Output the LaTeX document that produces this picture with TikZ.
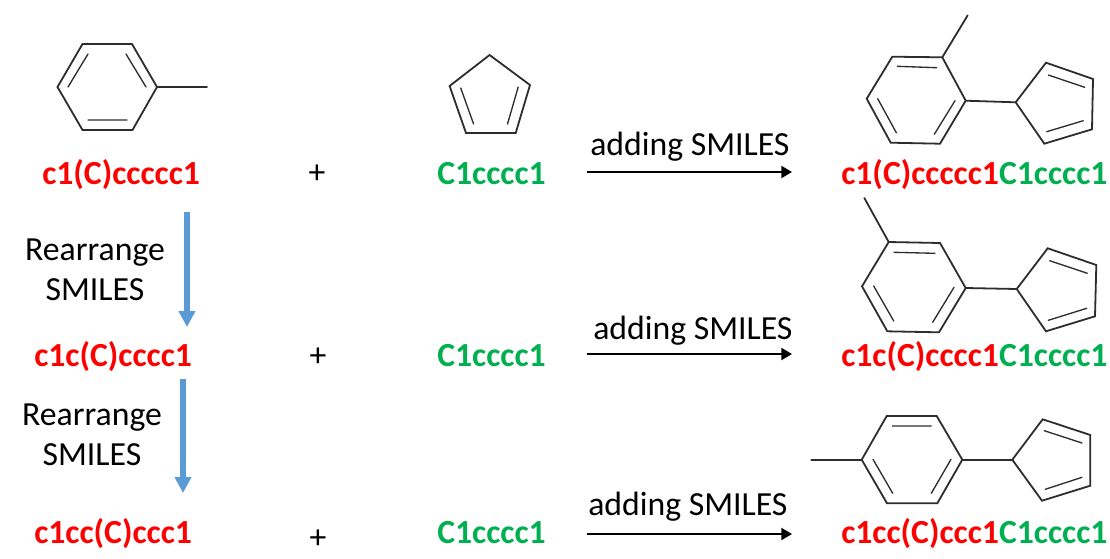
\documentclass[tikz,border=0pt]{standalone}
\usepackage{fontspec}
\setmainfont{Carlito}
\usetikzlibrary{arrows.meta}
\definecolor{smred}{RGB}{255,0,0}
\definecolor{smgreen}{RGB}{0,176,80}
\definecolor{smblue}{RGB}{91,155,213}
\definecolor{bondc}{RGB}{45,45,45}
\tikzset{
  bond/.style={draw=bondc,line width=1.35pt,line join=miter,line cap=round},
  inner bond/.style={draw=bondc,line width=1pt,line cap=round},
  smiles/.style={anchor=base west,inner sep=0pt,font=\fontsize{25.3}{30}\selectfont\bfseries},
  plain label/.style={anchor=base west,inner sep=0pt,font=\fontsize{25.3}{30}\selectfont},
  plus label/.style={inner sep=0pt,font=\fontsize{25.3}{30}\selectfont},
  react arrow/.style={draw=black,line width=1.5pt,-{Triangle[length=8pt,width=9pt]}},
  move arrow/.style={draw=smblue,line width=4pt,-{Triangle[length=12pt,width=12pt]}}
}
\begin{document}
\begin{tikzpicture}[x=0.75pt,y=-0.75pt]
\useasboundingbox (0,0) rectangle (1110,558);
% toluene
\draw[bond] (82.5,44) -- (132,44) -- (157,87) -- (132.5,130) -- (82.5,130) -- (57.5,87) -- cycle;
\draw[bond] (157,87) -- (207,87);
\draw[inner bond] (88,54) -- (68,87) (126,54) -- (146,87) (88,120) -- (127,120);
% cyclopentadiene
\draw[bond] (489.6,55) -- (530,85) -- (515.7,133) -- (466,133) -- (449.6,86) -- cycle;
\draw[inner bond] (460.7,88) -- (473.6,124) (518.2,87) -- (507.5,124);
% product 1
\draw[bond] (892.3,56.7) -- (942.3,57.3) -- (965.7,100.7) -- (940,143.7) -- (890.7,142.7) -- (866.7,98.7) -- cycle;
\draw[bond] (942.3,57.3) -- (967.7,15.3);
\draw[inner bond] (897.3,66.3) -- (936.7,67.7) (877.7,98.7) -- (896.3,132.7) (955,100.7) -- (934.3,134.3);
\draw[bond] (965.7,100.7) -- (1015.7,102.3);
\draw[bond] (1015.7,102.3) -- (1046,62.7) -- (1093,79) -- (1092,129.3) -- (1044.3,143.7) -- cycle;
\draw[inner bond] (1048.3,75) -- (1084.7,87.3) (1046.7,131.7) -- (1083.3,120.7);
% product 2
\draw[bond] (888.7,242) -- (940,243) -- (965.7,288) -- (939,332.3) -- (887.3,331.3) -- (862,286.3) -- cycle;
\draw[bond] (888.7,242) -- (864.3,198);
\draw[inner bond] (894,252.3) -- (935,253.3) (873.7,286) -- (893.7,321) (954,287.3) -- (932.7,322.3);
\draw[bond] (965.7,288) -- (1016.7,289);
\draw[bond] (1016.7,289) -- (1047.7,248.3) -- (1096.3,265) -- (1095,316.3) -- (1046,331.3) -- cycle;
\draw[inner bond] (1049.7,260.7) -- (1087.3,273.3) (1048.3,320.3) -- (1086.7,308.3);
% product 3
\draw[bond] (886.7,416) -- (936.7,416) -- (962.3,459.7) -- (937.3,503.3) -- (887,503.3) -- (861.7,459.7) -- cycle;
\draw[bond] (861.7,459.7) -- (811.3,459.7);
\draw[inner bond] (892.3,426) -- (931.3,426) (873,459.3) -- (892.7,493.3) (951,459.3) -- (931.3,493.3);
\draw[bond] (962.3,459.7) -- (1012.3,459.7);
\draw[bond] (1012.3,459.7) -- (1042.7,419.3) -- (1090.3,435) -- (1090.3,485.7) -- (1042,500.7) -- cycle;
\draw[inner bond] (1044.3,430.7) -- (1082,443) (1045.3,489.3) -- (1082,477.3);
% labels
\node[smiles,text=smred] (a1) at (42,184) {c1(C)ccccc1};
\node[smiles,text=smred] (a2) at (34,366) {c1c(C)cccc1};
\node[smiles,text=smred] (a3) at (34,543) {c1cc(C)ccc1};
\node[plus label] (p1) at (317,174) {+};
\node[plus label] (p2) at (318,357) {+};
\node[plus label] (p3) at (318,539) {+};
\node[smiles,text=smgreen] (b1) at (437,184) {C1cccc1};
\node[smiles,text=smgreen] (b2) at (437,366) {C1cccc1};
\node[smiles,text=smgreen] (b3) at (437,543) {C1cccc1};
\node[smiles] (c1) at (841,184) {\textcolor{smred}{c1(C)ccccc1}\textcolor{smgreen}{C1cccc1}};
\node[smiles] (c2) at (841,366) {\textcolor{smred}{c1c(C)cccc1}\textcolor{smgreen}{C1cccc1}};
\node[smiles] (c3) at (841,543) {\textcolor{smred}{c1cc(C)ccc1}\textcolor{smgreen}{C1cccc1}};
\node[plain label] (l1) at (590,155) {adding SMILES};
\node[plain label] (l2) at (593,339) {adding SMILES};
\node[plain label] (l3) at (588,515) {adding SMILES};
\node[plain label,anchor=base] (r1a) at (95,260) {Rearrange};
\node[plain label,anchor=base] (r1b) at (95,300) {SMILES};
\node[plain label,anchor=base] (r2a) at (92,425) {Rearrange};
\node[plain label,anchor=base] (r2b) at (92,465) {SMILES};
% connectors
\coordinate (s1) at (587,172); \coordinate (e1) at (792,172);
\coordinate (s2) at (587,354); \coordinate (e2) at (792,354);
\coordinate (s3) at (587,534); \coordinate (e3) at (792,534);
\draw[react arrow] (s1) -- (e1);
\draw[react arrow] (s2) -- (e2);
\draw[react arrow] (s3) -- (e3);
\coordinate (m1) at (187,212); \coordinate (n1) at (187,327);
\coordinate (m2) at (183,379); \coordinate (n2) at (183,493);
\draw[move arrow] (m1) -- (n1);
\draw[move arrow] (m2) -- (n2);
\end{tikzpicture}
\end{document}
